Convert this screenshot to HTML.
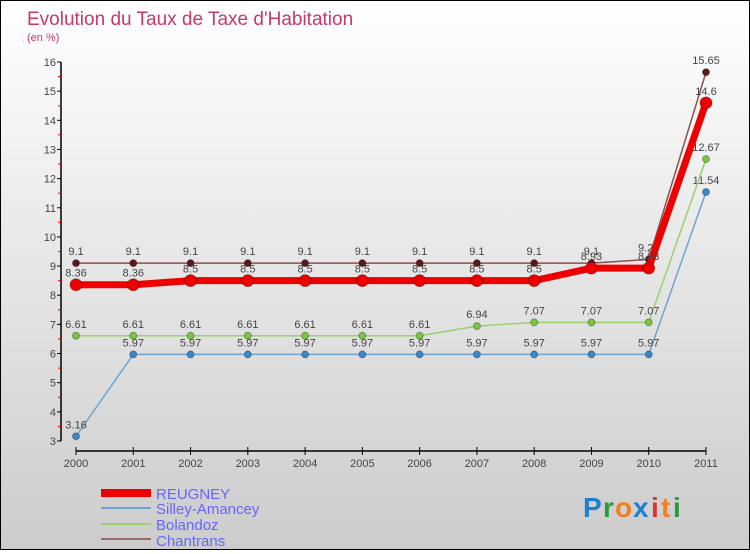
<!DOCTYPE html>
<html><head><meta charset="utf-8"><style>
body{margin:0}
#c{width:748px;height:548px;border:1px solid #000;background:linear-gradient(#fff,#ccc);position:relative;font-family:"Liberation Sans",sans-serif}
text{font-family:"Liberation Sans",sans-serif}
</style></head><body>
<div id="c">
<svg id="s" width="748" height="548" xmlns="http://www.w3.org/2000/svg">
<text x="26" y="24" font-size="19" fill="#c8386a">Evolution du Taux de Taxe d'Habitation</text>
<text x="26" y="40" font-size="11" fill="#c8386a">(en %)</text>
<g id="axes"></g><g id="series"></g>
<g>
<rect x="100" y="488" width="50" height="8" fill="#e00"/>
<text x="155" y="498" font-size="15" fill="#6666ff">REUGNEY</text>
<rect x="100" y="506" width="50" height="2" fill="#6fa4d0"/>
<text x="155" y="513" font-size="15" fill="#6666ff">Silley-Amancey</text>
<rect x="100" y="522" width="50" height="2" fill="#99d070"/>
<text x="155" y="529" font-size="15" fill="#6666ff">Bolandoz</text>
<rect x="100" y="537" width="50" height="2" fill="#9a6a6a"/>
<text x="155" y="545" font-size="15" fill="#6666ff">Chantrans</text>
</g>
<g font-size="28" font-weight="bold">
<text x="582" y="516" fill="#1e7fd0">P</text><text x="602" y="516" fill="#2a9a3a">r</text><text x="614" y="516" fill="#f08020">o</text><text x="632" y="516" fill="#1e7fd0">x</text><text x="650" y="516" fill="#e03030">i</text><text x="660" y="516" fill="#f08020">t</text><text x="672" y="516" fill="#2a9a3a">i</text>
</g>
</svg></div>
<script>
const years=[2000,2001,2002,2003,2004,2005,2006,2007,2008,2009,2010,2011];
const yTicks=[3,4,5,6,7,8,9,10,11,12,13,14,15,16];
const reugney=[8.36,8.36,8.5,8.5,8.5,8.5,8.5,8.5,8.5,8.93,8.93,14.6];
const silley=[3.16,5.97,5.97,5.97,5.97,5.97,5.97,5.97,5.97,5.97,5.97,11.54];
const bolandoz=[6.61,6.61,6.61,6.61,6.61,6.61,6.61,6.94,7.07,7.07,7.07,12.67];
const chantrans=[9.1,9.1,9.1,9.1,9.1,9.1,9.1,9.1,9.1,9.1,9.23,15.65];
const NS="http://www.w3.org/2000/svg";
const X=i=>75+i*(630/11);
const Y=v=>440-(v-3)*(379/13);
function mk(t,a,p){const e=document.createElementNS(NS,t);for(const k in a)e.setAttribute(k,a[k]);p.appendChild(e);return e;}
const ax=document.getElementById('axes');
const yl=mk('line',{x1:60,y1:Y(16),x2:60,y2:Y(3),stroke:'#000','stroke-width':1.5},ax);


const xl=mk('line',{x1:75,y1:450,x2:705,y2:450,stroke:'#000','stroke-width':1.5},ax);


yTicks.forEach(v=>{
 mk('line',{x1:56,x2:60,y1:Y(v),y2:Y(v),stroke:'#000'},ax);
 if(v<16)mk('line',{x1:57,x2:60,y1:Y(v+0.5),y2:Y(v+0.5),stroke:'#e00'},ax);
 const t=mk('text',{x:55,y:Y(v)+4,'font-size':11,fill:'#444','text-anchor':'end'},ax);t.textContent=v;
 
 
});
years.forEach((y,i)=>{
 mk('line',{x1:X(i),x2:X(i),y1:446,y2:454,stroke:'#000'},ax);
 const t=mk('text',{x:X(i),y:466,'font-size':11,fill:'#444','text-anchor':'middle'},ax);t.textContent=y;
 
 
});
const sg=document.getElementById('series');
function series(name,vals,color,w,r,dot){
 const g=mk('g',{},sg);
 
 
 const p=mk('polyline',{points:vals.map((v,i)=>X(i)+','+Y(v)).join(' '),fill:'none',stroke:color,'stroke-width':w},g);
 
 
 vals.forEach((v,i)=>{
  const c=mk('circle',{cx:X(i),cy:Y(v),r:r,fill:dot,stroke:'rgba(0,0,0,0.3)'},g);
  
  
  const t=mk('text',{x:X(i),y:Y(v)-8,'font-size':11,fill:'#444','text-anchor':'middle'},g);t.textContent=v;
  
  
 });
}
series('silley-amancey',silley,'#6fa4d0',1.5,3.5,'#3a88c8');
series('bolandoz',bolandoz,'#99d070',1.5,3.5,'#77c840');
series('chantrans',chantrans,'#8a5050',1.5,3.5,'#5a1a1a');
series('reugney',reugney,'#ee0000',7,6,'#ee0000');
</script>
</body></html>
